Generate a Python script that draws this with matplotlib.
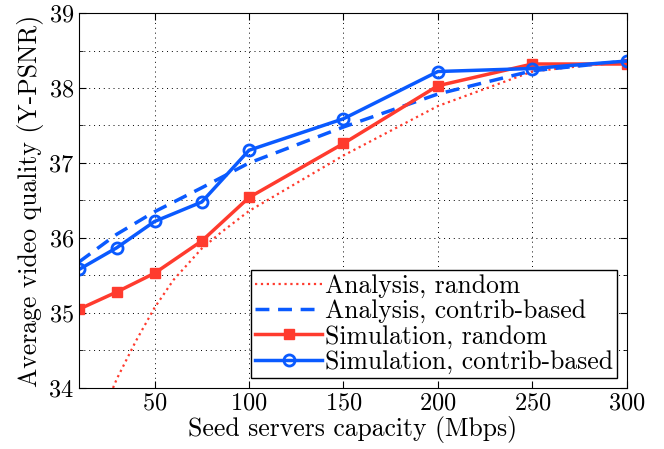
import matplotlib
matplotlib.use("Agg")
import matplotlib.pyplot as plt
from matplotlib.ticker import MultipleLocator

plt.rcParams['font.family'] = ['cmr10', 'DejaVu Serif']
plt.rcParams['axes.formatter.use_mathtext'] = True
plt.rcParams['mathtext.fontset'] = 'cm'

# capacity of the seed servers (Mbps)
x_sim = [10, 30, 50, 75, 100, 150, 200, 250, 300]
sim_random = [35.05, 35.28, 35.53, 35.96, 36.54, 37.26, 38.03, 38.32, 38.32]
sim_contrib = [35.58, 35.87, 36.22, 36.48, 37.17, 37.59, 38.22, 38.26, 38.36]

x_ana_random = [28, 30, 40, 50, 60, 75, 85, 100, 150, 200, 250, 300]
ana_random = [34.0, 34.12, 34.62, 35.07, 35.44, 35.86, 36.07, 36.36, 37.1, 37.76, 38.22, 38.36]

x_ana_contrib = [10, 30, 50, 75, 100, 150, 200, 250, 300]
ana_contrib = [35.68, 36.05, 36.35, 36.67, 37.0, 37.48, 37.92, 38.23, 38.36]

red = '#ff3b2e'
blue = '#0a5aff'


def main():
    fig = plt.figure(figsize=(6.64, 4.49), dpi=100)
    ax = fig.add_axes([0.119, 0.136, 0.825, 0.835])

    ax.plot(x_ana_random, ana_random, ':', color=red, lw=1.6, label='Analysis, random')
    ax.plot(x_ana_contrib, ana_contrib, '--', color=blue, lw=2.5, dashes=(4, 2.5),
            label='Analysis, contrib-based')
    ax.plot(x_sim, sim_random, '-s', color=red, lw=2.5, ms=7, mfc=red, mec=red,
            label='Simulation, random')
    ax.plot(x_sim, sim_contrib, '-o', color=blue, lw=2.5, ms=8, mfc='none', mec=blue,
            mew=2, label='Simulation, contrib-based')

    ax.set_xlim(10, 300)
    ax.set_ylim(34, 39)
    ax.set_xticks([50, 100, 150, 200, 250, 300])
    ax.yaxis.set_major_locator(MultipleLocator(1))
    ax.yaxis.set_minor_locator(MultipleLocator(0.5))
    ax.tick_params(which='both', direction='in', top=True, right=True, labelsize=17.5)
    ax.tick_params(which='major', length=5)
    ax.tick_params(which='minor', length=3)
    ax.grid(True, which='major', ls=(0, (1, 4)), color='black', lw=0.7)
    ax.grid(True, which='minor', axis='y', ls=(0, (1, 4)), color='black', lw=0.7)

    ax.set_xlabel('Seed servers capacity (Mbps)', fontsize=18.5, labelpad=1)
    ax.set_ylabel('Average video quality (Y-PSNR)', fontsize=18.5, labelpad=3)

    leg = ax.legend(loc='lower right', fontsize=18.5, frameon=True, fancybox=False,
                    handlelength=2.6, handletextpad=0.1, labelspacing=0.05,
                    borderpad=0.15, borderaxespad=0.4, framealpha=1)
    leg.get_frame().set_edgecolor('black')
    leg.get_frame().set_linewidth(1)

    fig.savefig('out.png', dpi=100)


if __name__ == "__main__":
    main()
